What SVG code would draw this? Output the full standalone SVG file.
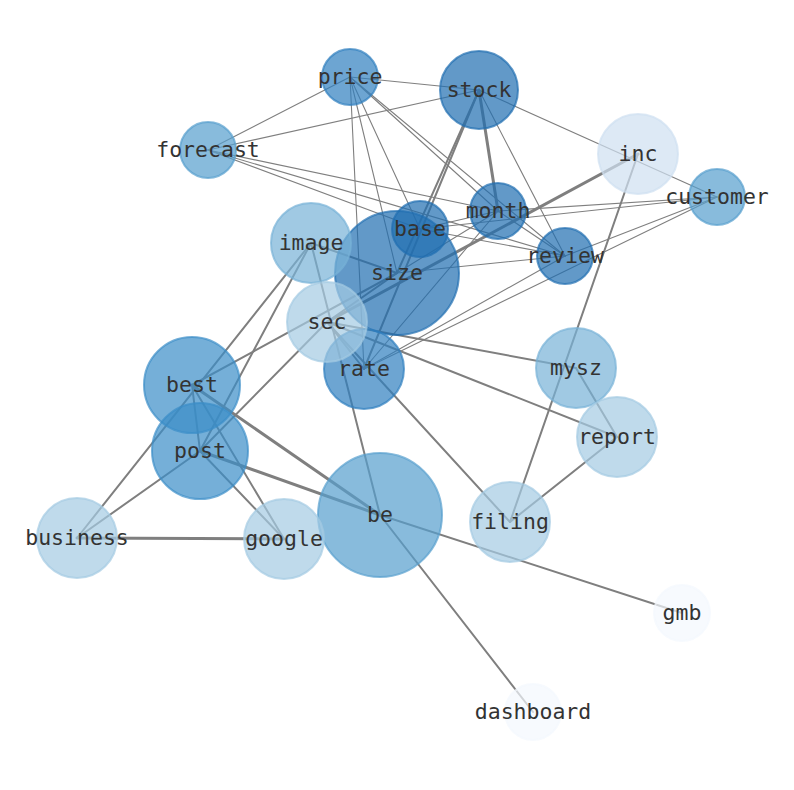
<svg xmlns="http://www.w3.org/2000/svg" width="794" height="790" viewBox="0 0 794 790">
<style>
.e{stroke:#7f7f7f;fill:none;stroke-linecap:round}
.t1{stroke-width:1.1}
.t2{stroke-width:2}
.t3{stroke-width:3}
circle{stroke-width:2;fill-opacity:0.7;stroke-opacity:0.7}
text{font-family:"DejaVu Sans Mono","Liberation Mono",monospace;font-size:21.5px;fill:#333;text-anchor:middle;dominant-baseline:central}
.c1{fill:#1f6db1;stroke:#1f6db1}
.c2{fill:#2f7fbf;stroke:#2f7fbf}
.c3{fill:#3b8dc8;stroke:#3b8dc8}
.c4{fill:#559ecd;stroke:#559ecd}
.c5{fill:#78b2d7;stroke:#78b2d7}
.c6{fill:#a4cae3;stroke:#a4cae3}
.c7{fill:#cfe0f1;stroke:#cfe0f1}
.c8{fill:#f3f8fe;stroke:#f3f8fe}
</style>
<rect width="794" height="790" fill="#fff"/>
<g id="edges">
<line class="e t1" x1="350" y1="77" x2="208" y2="150"/>
<line class="e t1" x1="350" y1="77" x2="479" y2="90"/>
<line class="e t1" x1="350" y1="77" x2="364" y2="369"/>
<line class="e t1" x1="350" y1="77" x2="397" y2="273"/>
<line class="e t1" x1="350" y1="77" x2="420" y2="229"/>
<line class="e t1" x1="350" y1="77" x2="498" y2="211"/>
<line class="e t1" x1="350" y1="77" x2="565" y2="256"/>
<line class="e t1" x1="479" y1="90" x2="208" y2="150"/>
<line class="e t1" x1="479" y1="90" x2="717" y2="197"/>
<line class="e t1" x1="479" y1="90" x2="565" y2="256"/>
<line class="e t1" x1="208" y1="150" x2="498" y2="211"/>
<line class="e t1" x1="208" y1="150" x2="565" y2="256"/>
<line class="e t1" x1="208" y1="150" x2="420" y2="229"/>
<line class="e t1" x1="717" y1="197" x2="498" y2="211"/>
<line class="e t1" x1="717" y1="197" x2="420" y2="229"/>
<line class="e t1" x1="717" y1="197" x2="565" y2="256"/>
<line class="e t1" x1="717" y1="197" x2="364" y2="369"/>
<line class="e t1" x1="565" y1="256" x2="397" y2="273"/>
<line class="e t1" x1="565" y1="256" x2="364" y2="369"/>
<line class="e t1" x1="565" y1="256" x2="420" y2="229"/>
<line class="e t1" x1="498" y1="211" x2="420" y2="229"/>
<line class="e t1" x1="498" y1="211" x2="397" y2="273"/>
<line class="e t1" x1="498" y1="211" x2="364" y2="369"/>
<line class="e t1" x1="498" y1="211" x2="565" y2="256"/>
<line class="e t3" x1="479" y1="90" x2="498" y2="211"/>
<line class="e t2" x1="479" y1="90" x2="397" y2="273"/>
<line class="e t2" x1="479" y1="90" x2="364" y2="369"/>
<line class="e t3" x1="638" y1="154" x2="327" y2="322"/>
<line class="e t2" x1="638" y1="154" x2="510" y2="522"/>
<line class="e t2" x1="311" y1="243" x2="397" y2="273"/>
<line class="e t2" x1="311" y1="243" x2="200" y2="451"/>
<line class="e t2" x1="311" y1="243" x2="380" y2="515"/>
<line class="e t2" x1="311" y1="243" x2="77" y2="538"/>
<line class="e t2" x1="192" y1="385" x2="397" y2="273"/>
<line class="e t2" x1="327" y1="322" x2="200" y2="451"/>
<line class="e t2" x1="327" y1="322" x2="576" y2="368"/>
<line class="e t2" x1="327" y1="322" x2="617" y2="437"/>
<line class="e t2" x1="327" y1="322" x2="510" y2="522"/>
<line class="e t2" x1="327" y1="322" x2="397" y2="273"/>
<line class="e t2" x1="327" y1="322" x2="364" y2="369"/>
<line class="e t3" x1="192" y1="385" x2="380" y2="515"/>
<line class="e t3" x1="200" y1="451" x2="380" y2="515"/>
<line class="e t2" x1="192" y1="385" x2="200" y2="451"/>
<line class="e t2" x1="192" y1="385" x2="284" y2="539"/>
<line class="e t2" x1="200" y1="451" x2="284" y2="539"/>
<line class="e t2" x1="200" y1="451" x2="77" y2="538"/>
<line class="e t3" x1="77" y1="538" x2="284" y2="539"/>
<line class="e t2" x1="380" y1="515" x2="682" y2="613"/>
<line class="e t2" x1="380" y1="515" x2="533" y2="712"/>
<line class="e t2" x1="576" y1="368" x2="617" y2="437"/>
<line class="e t2" x1="617" y1="437" x2="510" y2="522"/>
</g>
<g id="n-size"><circle class="c1" cx="397" cy="273" r="62"/><text x="397" y="272">size</text></g>
<g id="n-stock"><circle class="c1" cx="479" cy="90" r="39"/><text x="479" y="89">stock</text></g>
<g id="n-price"><circle class="c2" cx="350" cy="77" r="28"/><text x="350" y="76">price</text></g>
<g id="n-forecast"><circle class="c4" cx="208" cy="150" r="28"/><text x="208" y="149">forecast</text></g>
<g id="n-inc"><circle class="c7" cx="638" cy="154" r="40"/><text x="638" y="153">inc</text></g>
<g id="n-customer"><circle class="c4" cx="717" cy="197" r="28"/><text x="717" y="196">customer</text></g>
<g id="n-month"><circle class="c1" cx="498" cy="211" r="28"/><text x="498" y="210">month</text></g>
<g id="n-base"><circle class="c1" cx="420" cy="229" r="28"/><text x="420" y="228">base</text></g>
<g id="n-review"><circle class="c1" cx="565" cy="256" r="28"/><text x="565" y="255">review</text></g>
<g id="n-image"><circle class="c5" cx="311" cy="243" r="40"/><text x="311" y="242">image</text></g>
<g id="n-rate"><circle class="c2" cx="364" cy="369" r="40"/><text x="364" y="368">rate</text></g>
<g id="n-sec"><circle class="c6" cx="327" cy="322" r="40"/><text x="327" y="321">sec</text></g>
<g id="n-mysz"><circle class="c5" cx="576" cy="368" r="40"/><text x="576" y="367">mysz</text></g>
<g id="n-best"><circle class="c3" cx="192" cy="385" r="48"/><text x="192" y="384">best</text></g>
<g id="n-report"><circle class="c6" cx="617" cy="437" r="40"/><text x="617" y="436">report</text></g>
<g id="n-post"><circle class="c3" cx="200" cy="451" r="48"/><text x="200" y="450">post</text></g>
<g id="n-be"><circle class="c4" cx="380" cy="515" r="62"/><text x="380" y="514">be</text></g>
<g id="n-filing"><circle class="c6" cx="510" cy="522" r="40"/><text x="510" y="521">filing</text></g>
<g id="n-business"><circle class="c6" cx="77" cy="538" r="40"/><text x="77" y="537">business</text></g>
<g id="n-google"><circle class="c6" cx="284" cy="539" r="40"/><text x="284" y="538">google</text></g>
<g id="n-gmb"><circle class="c8" cx="682" cy="613" r="28"/><text x="682" y="612">gmb</text></g>
<g id="n-dashboard"><circle class="c8" cx="533" cy="712" r="28"/><text x="533" y="711">dashboard</text></g>
</svg>
